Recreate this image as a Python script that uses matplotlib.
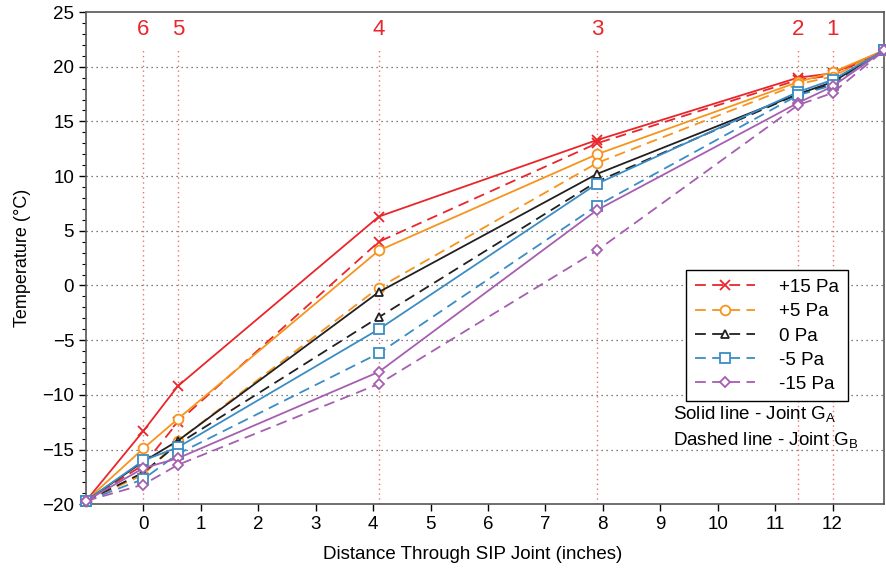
import matplotlib.pyplot as plt
import numpy as np

plt.rcParams['font.family'] = ['Liberation Sans', 'DejaVu Sans']

# sensor positions through the joint (inches)
x = [-1.0, 0.0, 0.6, 4.1, 7.9, 11.4, 12.0, 12.9]
sensor_x = [0.0, 0.6, 4.1, 7.9, 11.4, 12.0]
sensor_lbl = ['6', '5', '4', '3', '2', '1']

labels = ['+15 Pa', '+5 Pa', '0 Pa', '-5 Pa', '-15 Pa']
colors = ['#e8262b', '#f7941d', '#231f20', '#3a8dc5', '#a65fb0']
markers = ['x', 'o', '^', 's', 'D']

# joint G_A (solid)
solid = [
    [-19.7, -13.3, -9.2, 6.3, 13.3, 19.0, 19.4, 21.5],
    [-19.7, -14.9, -12.2, 3.2, 12.0, 18.6, 19.5, 21.5],
    [-19.7, -16.1, -14.2, -0.6, 10.2, 17.5, 18.6, 21.5],
    [-19.7, -16.0, -14.8, -4.0, 9.3, 17.7, 18.8, 21.5],
    [-19.7, -16.7, -15.8, -7.9, 6.9, 16.7, 18.2, 21.5],
]
# joint G_B (dashed)
dashed = [
    [-19.7, -16.4, -12.5, 4.0, 13.0, 18.8, 19.2, 21.5],
    [-19.7, -17.3, -14.2, -0.2, 11.2, 18.4, 19.1, 21.5],
    [-19.7, -17.1, -14.5, -2.9, 9.5, 17.5, 18.4, 21.5],
    [-19.7, -17.7, -15.4, -6.2, 7.3, 17.4, 18.3, 21.5],
    [-19.7, -18.2, -16.4, -9.0, 3.2, 16.5, 17.6, 21.5],
]

fig = plt.figure(figsize=(8.86, 5.73), dpi=100)
ax = fig.add_axes([0.097, 0.12, 0.901, 0.859])

# horizontal dotted grid
for yy in range(-15, 25, 5):
    ax.axhline(yy, color='#555555', ls=(0, (1, 3)), lw=0.9, zorder=0)

# sensor lines and numbers
ax.vlines(sensor_x, -20, 21.8, colors='#f07070', linestyles=(0, (1, 2.5)), lw=1.0, zorder=0)
for sx, sl in zip(sensor_x, sensor_lbl):
    ax.text(sx, 23.4, sl, color='#e8262b', fontsize=16, ha='center', va='center')

def msize(m):
    return 7 if m in ('x', 'o', 's') else 5.5

handles = []
for i in range(5):
    c = colors[i]
    m = markers[i]
    ax.plot(x, solid[i], color=c, lw=1.3, marker=m, ms=msize(m), mfc='white',
            mec=c, mew=1.3, clip_on=False, zorder=3)
    h, = ax.plot(x, dashed[i], color=c, lw=1.3, ls=(0, (6, 3.5)), marker=m, ms=msize(m),
                 mfc='white', mec=c, mew=1.3, clip_on=False, zorder=3, label=labels[i])
    handles.append(h)

ax.set_xlim(-1, 12.9)
ax.set_ylim(-20, 25)
ax.set_xticks(range(0, 13))
ax.set_yticks(range(-20, 26, 5))
ax.set_yticks(range(-20, 26, 1), minor=True)
ax.set_yticklabels([('\u2212' + str(-v)) if v < 0 else str(v) for v in range(-20, 26, 5)])
ax.tick_params(axis='both', which='major', labelsize=13.5, direction='out', length=5, width=1)
ax.tick_params(axis='y', which='minor', direction='out', length=3, width=0.8)
for s in ax.spines.values():
    s.set_color('#555555')
    s.set_linewidth(1.2)

ax.set_xlabel('Distance Through SIP Joint (inches)', fontsize=13.5)
ax.xaxis.set_label_coords(0.485, -0.085)
ax.set_ylabel('Temperature (\u00b0C)', fontsize=13, labelpad=8)

leg = ax.legend(handles=handles, loc='upper left', bbox_to_anchor=(0.752, 0.475),
                fontsize=13.5, handlelength=3.2, fancybox=False, framealpha=1,
                edgecolor='black', borderpad=0.45, labelspacing=0.38, handletextpad=1.3,
                borderaxespad=0)
leg.get_frame().set_linewidth(1.0)

ax.text(0.736, 0.181, 'Solid line - Joint G$_\\mathregular{A}$', transform=ax.transAxes,
        fontsize=13.5, va='center', ha='left')
ax.text(0.736, 0.128, 'Dashed line - Joint G$_\\mathregular{B}$', transform=ax.transAxes,
        fontsize=13.5, va='center', ha='left')

fig.savefig('out.png', dpi=100)
